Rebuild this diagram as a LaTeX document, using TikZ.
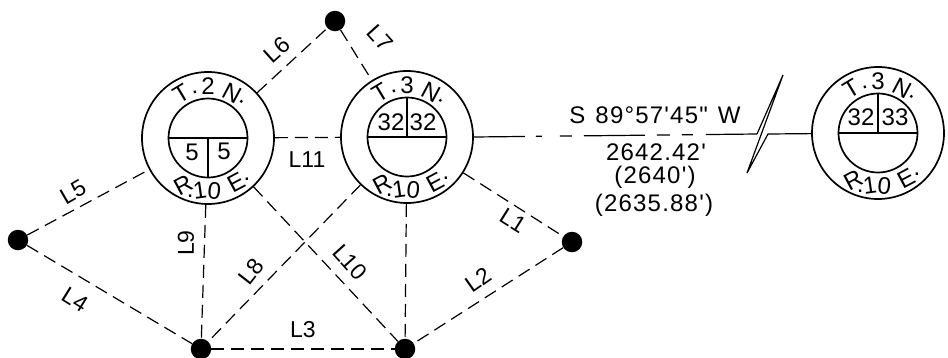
\documentclass[tikz,border=0pt]{standalone}
\usepackage{fontspec}
\setmainfont{Liberation Sans}
\newfontfamily\dimfont[LetterSpace=5]{Liberation Sans}
\usetikzlibrary{calc}
\tikzset{
  x=1pt,y=-1pt,
  ring/.style={circle,draw,line width=1.7pt,minimum size=132pt,inner sep=0pt},
  dot/.style={circle,fill=black,minimum size=20.5pt,inner sep=0pt},
  dsh/.style={line width=1.2pt,dash pattern=on 13pt off 7pt},
  solidln/.style={line width=1.2pt},
  heavy/.style={line width=1.7pt},
  lab/.style={font=\fontsize{23}{23}\selectfont,inner sep=0pt},
  arcl/.style={font=\fontsize{24}{24}\selectfont,inner sep=0pt},
  num/.style={font=\fontsize{24}{24}\selectfont,inner sep=0pt},
  dimt/.style={font=\dimfont\fontsize{24}{24}\selectfont,inner sep=0pt},
}
\newcommand{\polar}[4]{\node[arcl,rotate=-#3] at ($(#1)+({#2*sin(#3)},{-#2*cos(#3)})$) {#4};}
\newcommand{\polarb}[5]{\node[arcl,rotate=#5] at ($(#1)+({-#2*sin(#3)},{#2*cos(#3)})$) {#4};}
\newcommand{\township}[3]{%
  \node[ring] (#1) at (#2) {};
  \draw[heavy] (#2) circle[radius=39.5];
  \draw[heavy] ($(#2)+(-39.5,0)$) -- ($(#2)+(39.5,0)$);
  \polar{#2}{52}{-31}{T}
  \polar{#2}{47}{-16}{.}
  \polar{#2}{52}{0}{#3}
  \polar{#2}{51}{28}{N}
  \polar{#2}{49}{43}{.}
  \polarb{#2}{53}{28}{R}{28}
  \polarb{#2}{61}{17}{.}{0}
  \polarb{#2}{53}{9}{1}{8}
  \polarb{#2}{53}{-7}{0}{-6}
  \polarb{#2}{53}{-32}{E}{28}
  \polarb{#2}{57}{-43}{.}{0}
}
\begin{document}
\begin{tikzpicture}
\useasboundingbox (0,0) rectangle (948,357);
\township{A}{208,138}{2}
\township{B}{407,137}{3}
\township{C}{878,133}{3}
\node[dot] (top) at (335,21) {};
\node[dot] (lft) at (18,240) {};
\node[dot] (rgt) at (572,242) {};
\node[dot] (bl) at (201,349) {};
\node[dot] (br) at (405,349) {};
% section dividers
\draw[heavy] (208,138) -- (208,177.5);
\draw[heavy] (407,137) -- (407,97.5);
\draw[heavy] (878,133) -- (878,93.5);
\node[num] (n1) at (192,152) {5};
\node[num] (n2) at (224,151) {5};
\node[num] (n3) at (391,122) {32};
\node[num] (n4) at (423,122) {32};
\node[num] (n5) at (861,117) {32};
\node[num] (n6) at (895,117) {33};
% connectors
\draw[dsh] (B) -- (rgt);
\draw[dsh] (rgt) -- (br);
\draw[dsh] (bl) -- (br);
\draw[dsh] (lft) -- (bl);
\draw[dsh] (lft) -- (A);
\draw[dsh] (A) -- (top);
\draw[dsh] (top) -- (B);
\draw[dsh] (B) -- (bl);
\draw[dsh] (A) -- (bl);
\draw[dsh] (A) -- (br);
\draw[dsh] (A) -- (B);
\draw[dsh] (B) -- (br);
% bearing line with break
\coordinate (k1) at (757,134);
\coordinate (k2) at (783,75);
\coordinate (k3) at (747,173);
\coordinate (k4) at (768,134);
\draw[solidln,dash pattern=on 51pt off 11pt on 6pt off 18pt on 12pt off 12pt on 61pt off 12pt on 13pt off 12pt on 11pt off 13pt on 60pt off 0pt] (B.east) -- (k1);
\draw[solidln] (k1) -- (k2) -- (k3) -- (k4) -- (C);
% labels
\node[lab,rotate=-32] (L1) at (513,221) {L1};
\node[lab,rotate=35] (L2) at (478,280) {L2};
\node[lab] (L3) at (303,330) {L3};
\node[lab,rotate=-32] (L4) at (75,300) {L4};
\node[lab,rotate=30] (L5) at (73,192) {L5};
\node[lab,rotate=42] (L6) at (277,50) {L6};
\node[lab,rotate=-48] (L7) at (380,38) {L7};
\node[lab,rotate=52] (L8) at (251,272) {L8};
\node[lab,rotate=90] (L9) at (186,243) {L9};
\node[lab,rotate=-48] (L10) at (350,262) {L10};
\node[lab] (L11) at (307,160) {L11};
\node[dimt] (d0) at (655,115) {S\hspace{10pt}89°57'45"\hspace{10pt}W};
\node[dimt] (d1) at (656,152) {2642.42'};
\node[dimt] (d2) at (655,177) {(2640')};
\node[dimt] (d3) at (654,205) {(2635.88')};
\end{tikzpicture}
\end{document}
